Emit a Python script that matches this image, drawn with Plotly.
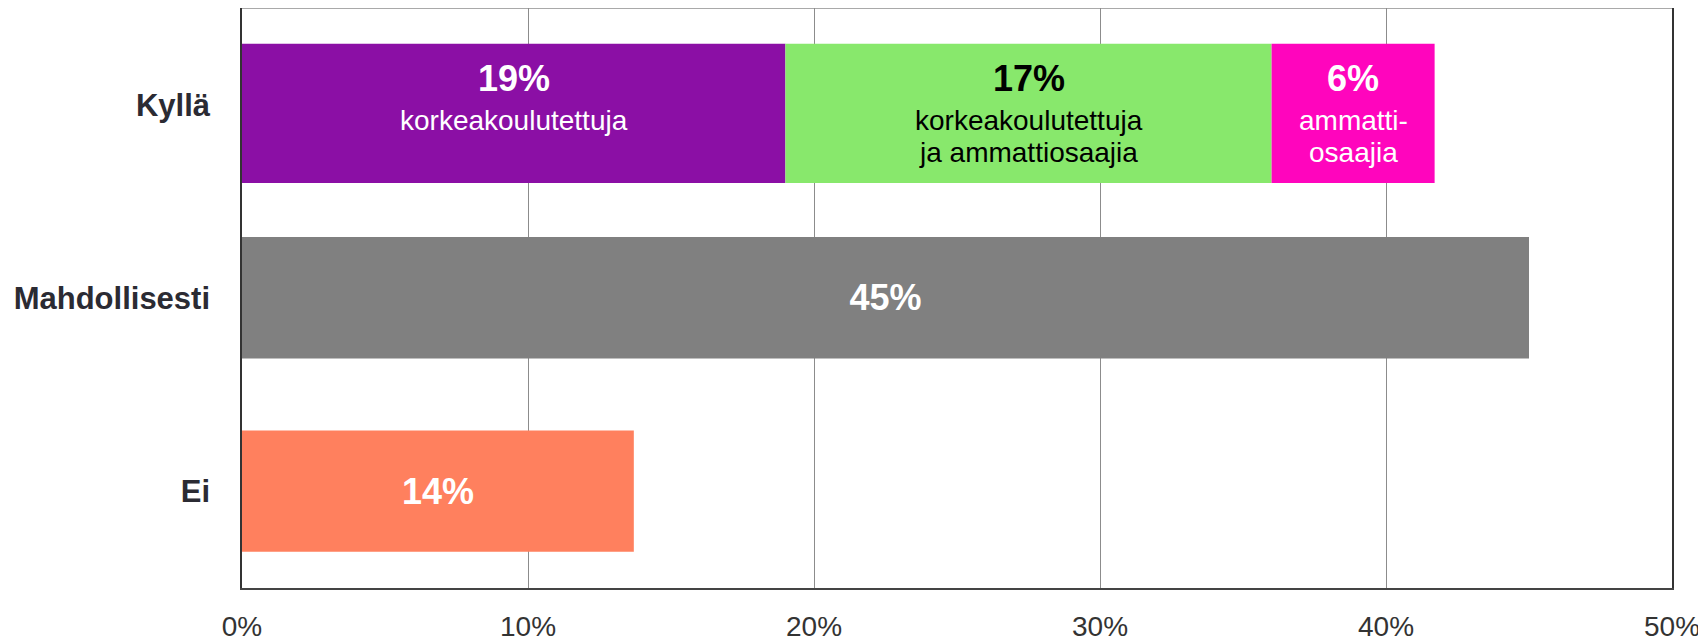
import plotly.graph_objects as go

categories = ["Kyllä", "Mahdollisesti", "Ei"]

kylla_values = [19, 17, 5.7]
kylla_pct_labels = ["19%", "17%", "6%"]
kylla_sub_labels = [["korkeakoulutettuja"], ["korkeakoulutettuja", "ja ammattiosaajia"], ["ammatti-", "osaajia"]]
kylla_colors = ["#8b0fa5", "#88e86c", "#ff05bd"]
kylla_text_colors = ["#ffffff", "#000000", "#ffffff"]

other_categories = ["Mahdollisesti", "Ei"]
other_values = [45, 13.7]
other_labels = ["45%", "14%"]
other_colors = ["#808080", "#ff805e"]

x_tickvals = [0, 10, 20, 30, 40, 50]
x_ticktext = ["0%", "10%", "20%", "30%", "40%", "50%"]

FONT = "Liberation Sans, Arial, sans-serif"
BAR_OFFSET = -0.315
LINE_STEP = 32

fig = go.Figure()

base = 0
annotations = []
for val, pct, sub, col, tcol in zip(kylla_values, kylla_pct_labels, kylla_sub_labels,
                                    kylla_colors, kylla_text_colors):
    fig.add_trace(go.Bar(
        y=[categories[0]], x=[val], base=[base], orientation="h",
        marker=dict(color=col, line=dict(width=0)),
        width=0.72, offset=BAR_OFFSET, showlegend=False, hoverinfo="skip",
    ))
    center = base + val / 2
    annotations.append(dict(
        x=center, y=categories[0], xref="x", yref="y", text=pct, showarrow=False,
        font=dict(family=FONT, size=36, color=tcol, weight="bold"),
        yanchor="middle", yshift=26,
    ))
    for i, line in enumerate(sub):
        annotations.append(dict(
            x=center, y=categories[0], xref="x", yref="y", text=line, showarrow=False,
            font=dict(family=FONT, size=28, color=tcol),
            yanchor="middle", yshift=-16 - LINE_STEP * i,
        ))
    base += val

fig.add_trace(go.Bar(
    y=other_categories, x=other_values, orientation="h",
    marker=dict(color=other_colors, line=dict(width=0)),
    width=0.628, offset=BAR_OFFSET,
    text=other_labels, textposition="inside", insidetextanchor="middle",
    textangle=0,
    textfont=dict(family=FONT, size=36, color="#ffffff", weight="bold"),
    showlegend=False, hoverinfo="skip",
))

fig.update_layout(
    width=1698, height=633,
    margin=dict(l=234, r=34, t=0, b=53),
    paper_bgcolor="white", plot_bgcolor="white",
    barmode="overlay",
    annotations=annotations,
    xaxis=dict(
        range=[0, 50], tickvals=x_tickvals, ticktext=x_ticktext,
        showgrid=True, gridcolor="#8c8c8c", gridwidth=1,
        showline=True, linecolor="#444444", linewidth=2,
        zeroline=False, ticks="", ticklabelstandoff=12, automargin=False,
        tickfont=dict(family=FONT, size=28, color="#333333"),
    ),
    yaxis=dict(
        categoryorder="array", categoryarray=categories, autorange="reversed",
        showgrid=False, zeroline=False,
        showline=True, linecolor="#333333", linewidth=1.5, mirror=True,
        ticks="", ticklabelstandoff=24, automargin=False,
        tickfont=dict(family=FONT, size=31, color="#2b2b33", weight="bold"),
    ),
    shapes=[dict(type="line", xref="x domain", yref="y domain", x0=0, x1=1, y0=1, y1=1,
                 line=dict(color="#8c8c8c", width=1.5))],
)

fig.write_html("out.html")
